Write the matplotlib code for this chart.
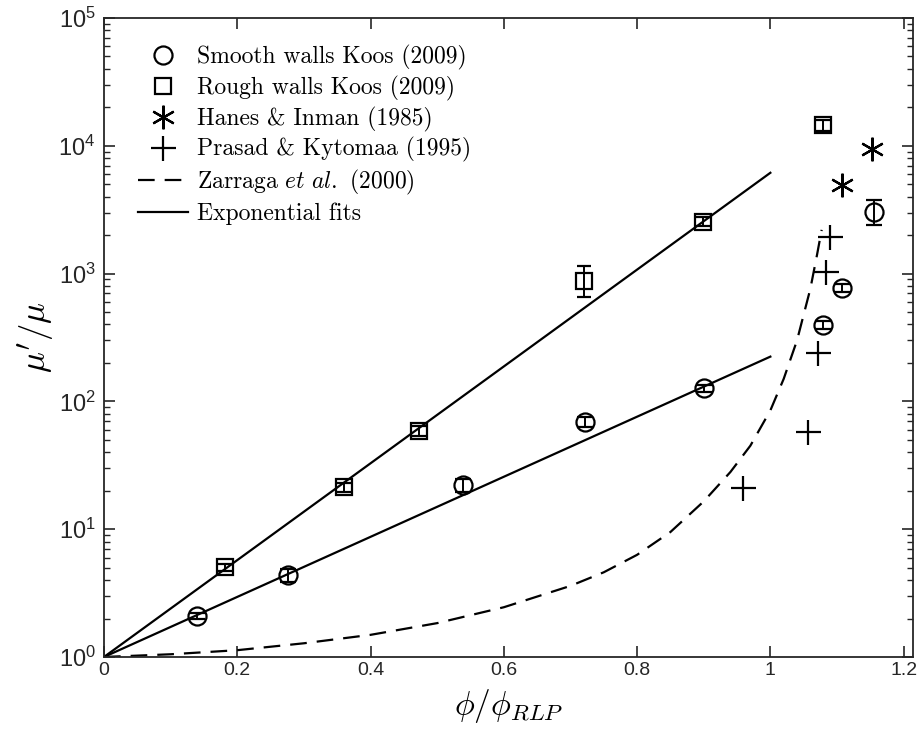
import math
import matplotlib
matplotlib.use('Agg')
import matplotlib.pyplot as plt
import matplotlib.ticker as ticker
from matplotlib.font_manager import FontProperties
from matplotlib.lines import Line2D

plt.rcParams['font.family'] = 'sans-serif'
plt.rcParams['font.sans-serif'] = ['Liberation Sans']
plt.rcParams['mathtext.fontset'] = 'custom'
plt.rcParams['mathtext.rm'] = 'Liberation Sans'
plt.rcParams['mathtext.it'] = 'Liberation Sans:italic'
plt.rcParams['mathtext.sf'] = 'Liberation Sans'

# Smooth walls, Koos (2009)
smooth_x = [0.139, 0.276, 0.539, 0.722, 0.900, 1.079, 1.107, 1.155]
smooth_y = [2.10, 4.38, 22.2, 69.4, 127, 396, 767, 3050]
smooth_lo = [0.12, 0.5, 2.5, 6.0, 8.0, 30, 55, 650]
smooth_hi = [0.12, 0.5, 2.5, 6.0, 8.0, 30, 55, 720]

# Rough walls, Koos (2009)
rough_x = [0.181, 0.360, 0.472, 0.720, 0.899, 1.079]
rough_y = [5.03, 21.3, 59, 880, 2550, 14550]
rough_lo = [0.35, 1.6, 5.0, 220, 200, 1400]
rough_hi = [0.35, 1.6, 5.0, 270, 200, 1400]

# Hanes & Inman (1985)
hanes_x = [1.107, 1.152]
hanes_y = [4930, 9390]

# Prasad & Kytomaa (1995)
prasad_x = [0.959, 1.057, 1.072, 1.084, 1.089]
prasad_y = [20.9, 58, 240, 1035, 1950]

# Zarraga et al. (2000)
zarraga_x = [0.0, 0.1, 0.2, 0.3, 0.4, 0.5, 0.6, 0.7, 0.75, 0.8, 0.85, 0.9,
             0.94, 0.97, 1.0, 1.02, 1.04, 1.06, 1.07, 1.077]
zarraga_y = [1.0, 1.05, 1.13, 1.28, 1.49, 1.84, 2.45, 3.6, 4.6, 6.3, 9.5, 16.5,
             28, 45, 85, 150, 300, 760, 1400, 2200]

# exponential fits
fit_x = [0.0, 1.0]
rough_fit = [1.0, 6150]
smooth_fit = [1.0, 224]

dash = (7.5, 4.5)

fig = plt.figure(figsize=(9.17, 7.29), dpi=100)
ax = fig.add_axes([0.1134, 0.0988, 0.8822, 0.8765])

ax.plot(fit_x, rough_fit, '-', color='k', lw=1.6)
ax.plot(fit_x, smooth_fit, '-', color='k', lw=1.6)
ax.plot(zarraga_x, zarraga_y, '--', color='k', lw=1.6, dashes=dash)

ax.errorbar(smooth_x, smooth_y, yerr=[smooth_lo, smooth_hi], fmt='o', ms=13,
            mfc='none', mec='k', mew=1.6, ecolor='k', elinewidth=1.4, capsize=6,
            capthick=1.4)
ax.errorbar(rough_x, rough_y, yerr=[rough_lo, rough_hi], fmt='s', ms=11,
            mfc='none', mec='k', mew=1.6, ecolor='k', elinewidth=1.4, capsize=5,
            capthick=1.4)
ax.plot(hanes_x, hanes_y, linestyle='none', marker=(6, 2, 0), ms=17,
        mec='k', mew=1.6)
ax.plot(prasad_x, prasad_y, linestyle='none', marker='+', ms=18,
        mec='k', mew=1.6)

ax.set_yscale('log')
ax.set_xlim(0, 1.214)
ax.set_ylim(1, 1e5)
ax.set_xticks([0, 0.2, 0.4, 0.6, 0.8, 1.0, 1.2])
ax.set_xticklabels(['0', '0.2', '0.4', '0.6', '0.8', '1', '1.2'])
ax.yaxis.set_major_locator(ticker.LogLocator(base=10, numticks=10))
ax.yaxis.set_minor_locator(ticker.LogLocator(base=10, subs=range(2, 10), numticks=20))
ax.yaxis.set_minor_formatter(ticker.NullFormatter())
ax.yaxis.set_major_formatter(ticker.FuncFormatter(
    lambda v, p: r'$\mathregular{10^{%d}}$' % round(math.log10(v))))

ax.tick_params(which='both', direction='in', top=True, right=True,
               labelsize=14, colors='#262626')
ax.tick_params(which='major', length=8, width=1.2)
ax.tick_params(which='minor', length=4.5, width=1.0)
ax.tick_params(axis='y', which='major', labelsize=17, pad=6)
for s in ax.spines.values():
    s.set_linewidth(1.3)
    s.set_color('#262626')

ax.set_xlabel(r'$\phi/\phi_{RLP}$', fontsize=24, labelpad=6, math_fontfamily='cm')
ax.set_ylabel(r"$\mu'/\mu$", fontsize=25, labelpad=2, math_fontfamily='cm')

handles = [
    Line2D([], [], linestyle='none', marker='o', ms=13, mfc='none', mec='k', mew=1.6),
    Line2D([], [], linestyle='none', marker='s', ms=11, mfc='none', mec='k', mew=1.6),
    Line2D([], [], linestyle='none', marker=(6, 2, 0), ms=17, mec='k', mew=1.6),
    Line2D([], [], linestyle='none', marker='+', ms=18, mec='k', mew=1.6),
    Line2D([], [], linestyle='--', color='k', lw=1.6, dashes=dash),
    Line2D([], [], linestyle='-', color='k', lw=1.6),
]
labels = ['Smooth walls Koos (2009)', 'Rough walls Koos (2009)',
          'Hanes & Inman (1985)', 'Prasad & Kytomaa (1995)',
          r'Zarraga $\mathit{et\ al.}$ (2000)', 'Exponential fits']
leg_font = FontProperties(family='cmr10', size=17, math_fontfamily='cm')
leg = ax.legend(handles, labels, loc='upper left', bbox_to_anchor=(0.025, 0.98),
                frameon=False, prop=leg_font,
                handlelength=2.1, handletextpad=0.4, labelspacing=0.24,
                borderaxespad=0.2)

fig.savefig('out.png', dpi=100)
